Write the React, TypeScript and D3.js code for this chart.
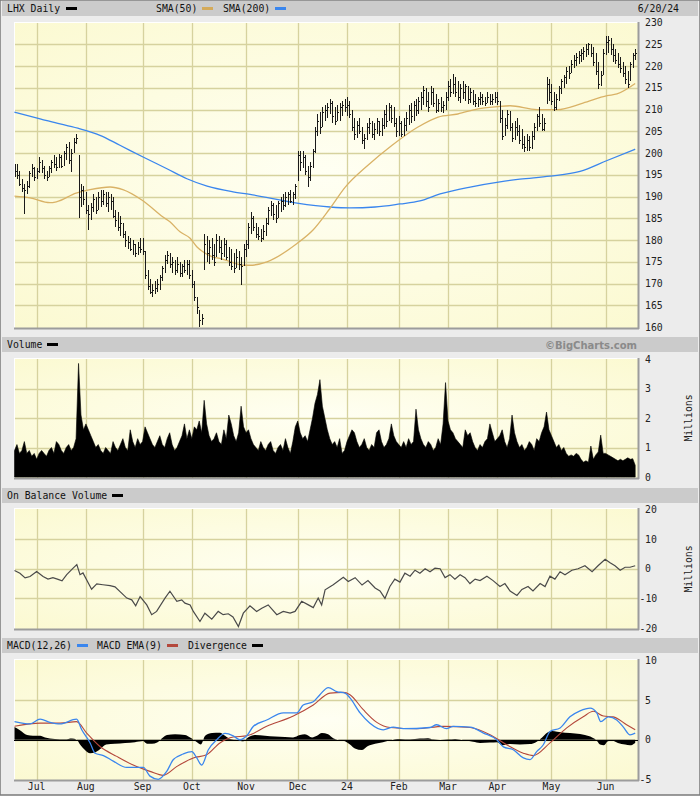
import React from "react";
import * as d3 from "d3";

const W = 700;
const H = 797;

// month gridlines: labels and trading-day index of first session
const monthLabels = ["Jul", "Aug", "Sep", "Oct", "Nov", "Dec", "24", "Feb", "Mar", "Apr", "May", "Jun"];
const monthStarts = [9, 29, 52, 72, 94, 115, 135, 156, 176, 196, 218, 240];

const priceTicks = [160, 165, 170, 175, 180, 185, 190, 195, 200, 205, 210, 215, 220, 225, 230];
const volumeTicks = [0, 1, 2, 3, 4];
const obvTicks = [-20, -10, 0, 10, 20];
const macdTicks = [-5, 0, 5, 10];

// daily bars: [high, low, close]
const bars: [number, number, number][] = [
  // Jun 2023
  [197.5, 194.5, 196], [197.6, 194, 195], [196, 192.5, 193], [194, 191, 192], [193, 186, 191.5],
  [193.5, 190.5, 192.5], [196, 192, 195.5], [197.5, 194.5, 196.5], [196.8, 193.5, 194.5],
  // Jul
  [196.5, 194, 196], [199, 195.5, 198], [198.5, 195.5, 196.5], [197, 194, 195], [196, 193.5, 194.5],
  [197, 194.5, 196.5], [198.5, 195.5, 198], [199.5, 196.5, 197.5], [199, 196, 196.8], [199.8, 196.5, 199],
  [199.5, 196.5, 197], [200.5, 197, 200], [202, 198.5, 201.5], [202.5, 197.5, 198.5], [201, 195.6, 200],
  [203.5, 200, 202.5], [204.3, 202, 203.5], [199.5, 185, 190], [193, 187.5, 191.5], [192.5, 188, 189.5],
  // Aug
  [191, 186, 187], [188, 182.3, 186], [188.5, 184.5, 187.5], [190.5, 186.5, 189.5], [190, 186, 187],
  [191, 187, 190], [191.5, 187.5, 189], [191.5, 188, 190.5], [191, 187.5, 188.5], [191, 186.5, 190],
  [190.5, 187, 189], [190, 185, 185.5], [187, 183, 184.5], [186.5, 182, 183], [185.5, 181, 184],
  [184, 180.5, 181.5], [182, 178.5, 180], [181, 178, 179.5], [180.5, 177.5, 178], [180, 176.5, 179],
  [179, 176, 177], [179.5, 176.5, 178.5], [180.5, 177, 178],
  // Sep
  [180.5, 176.5, 177.5], [177.5, 171, 172], [173, 168.5, 169.5], [171, 167.5, 168], [170, 167, 168.5],
  [170.5, 167.5, 169], [171, 168, 170], [172, 168.5, 171.5], [174, 170.5, 173.5], [176.5, 172.5, 175.5],
  [177.5, 174.5, 176.5], [177, 173.5, 174.5], [176, 172.5, 175], [175.5, 172, 173], [176, 172.5, 174.5],
  [175, 171.5, 172.5], [174.5, 171.5, 174], [175.5, 172.5, 173], [175.5, 172, 174.5], [175.5, 171, 172],
  // Oct
  [173, 169, 170], [170.5, 166, 167], [167, 163, 164.5], [164, 160, 161.5], [163, 160.5, 162],
  [181.5, 173, 179], [181, 175, 177], [180, 174.5, 178.5], [180.5, 175.5, 176.5], [179, 174, 175],
  [181.5, 176, 180], [181, 177, 178.5], [180, 175.5, 177], [180.5, 176, 179], [180, 175.5, 176],
  [178.5, 174, 175], [178, 173, 174], [177, 172.5, 173.5], [178, 173.5, 176], [177.5, 173, 174.5],
  [176, 169.6, 174], [179, 174, 178],
  // Nov
  [180, 176, 179], [184, 178, 183], [186.5, 181.5, 185], [185.5, 182, 183], [184, 180.5, 181.5],
  [183, 180, 181], [182.5, 179.5, 180.5], [183.5, 180, 182], [185, 181, 184], [187.5, 183.5, 187],
  [189, 185.5, 188], [188.5, 184.5, 186], [188, 184, 185], [189, 185, 188.5], [190, 186.5, 189],
  [190.5, 187, 188], [191, 187.5, 190], [191, 188, 190.5], [191.5, 188.5, 189], [191, 188, 190.5],
  [193, 189.5, 192.5],
  // Dec
  [200.5, 193.5, 199.5], [200.5, 196, 198], [200.5, 196.5, 199], [199.5, 195, 196], [197, 192.2, 194.5],
  [198, 193.5, 197], [201, 196.5, 200.5], [206, 200, 205], [209, 204, 207.5], [209.5, 204.5, 206],
  [210.5, 206, 209.5], [211, 207.5, 210], [211.5, 208, 210.5], [212.5, 209, 211.5], [212, 207, 208.5],
  [210.5, 206.4, 207.5], [211, 207.5, 209.5], [211.5, 207.5, 210.5], [212, 208.5, 211], [212.5, 209.5, 210.5],
  // Jan 2024
  [212.8, 208.5, 211], [212, 208, 209], [210, 205, 206], [208, 203, 204.5], [207.5, 203.5, 206.5],
  [208, 204.5, 205], [206, 202, 203], [204.5, 201, 203.5], [207, 203, 206], [208, 204.5, 207],
  [207.5, 203.5, 204.5], [207, 203, 205.5], [208, 204.5, 207.5], [207.5, 204, 205], [208, 204, 206.5],
  [210, 205.5, 209], [211, 206, 207.5], [211.6, 207.5, 210.5], [211, 207, 208], [210.5, 206, 207],
  [208, 203.6, 205],
  // Feb
  [208.5, 204, 207], [207.5, 203.6, 204.5], [208, 204, 206.5], [209.5, 205, 208], [211, 206.5, 210],
  [211.5, 207, 208.5], [212, 207.5, 211], [212.5, 208.5, 210], [213, 209, 212], [214, 210, 213],
  [215.5, 211, 214.5], [215, 210.5, 212], [214, 209.5, 210.5], [215.5, 211, 214], [215, 210.5, 211.5],
  [213.5, 209.3, 210], [212.5, 209.5, 211.5], [213, 209.5, 210.5], [212, 209.3, 211], [214, 210, 213],
  // Mar
  [216.5, 212, 215.5], [217, 213, 214], [218.3, 213.5, 216], [217.5, 213, 214], [216.7, 212, 213],
  [216, 211.5, 215], [216.5, 212.5, 214], [216, 212, 215.5], [215.5, 211.4, 212.5], [215, 211.5, 214],
  [214.5, 211, 212], [213.7, 210.5, 211.5], [213, 210.5, 212.5], [214, 211, 213], [213.5, 211, 212],
  [213, 210.8, 211.5], [214, 211.5, 213], [213.5, 211, 212], [213.5, 211, 212.5], [214, 211.5, 213],
  // Apr
  [214, 211, 212], [212, 207, 208], [210, 203, 204], [208, 204, 206.5], [210, 205.5, 209],
  [209.8, 205, 206], [207, 202.5, 203.5], [207.5, 203, 206], [208, 204, 205], [206.5, 202, 203],
  [205.5, 201, 202], [204, 200.2, 201.5], [204.5, 200.5, 203], [204, 200.5, 201.5], [205, 201, 204],
  [207, 203, 206], [209, 205, 208.5], [210.5, 206, 207], [209, 205, 205.5], [208, 205, 207],
  [217.4, 211.4, 216], [217, 212, 214],
  // May
  [216, 211, 212], [214, 209.8, 210.5], [213.5, 210, 212.5], [215.5, 212, 215], [217, 213.7, 216.5],
  [218, 215, 217.5], [219.7, 216, 219], [220, 217, 218.5], [221.5, 218.5, 220.5], [222.5, 219.5, 221.5],
  [223, 220, 222], [223.5, 220.5, 222.5], [224, 221, 223], [224.5, 221.5, 223.5], [225, 222, 224],
  [225.4, 222.5, 225], [225, 222, 223], [224.5, 220, 221], [223, 218, 219], [221, 214.8, 216],
  [219, 215.5, 218], [224, 218, 223],
  // Jun
  [227, 222.5, 225.5], [227, 223, 226], [226.5, 222.5, 224], [225, 221, 222.5], [224, 220.5, 221.5],
  [223, 219.5, 220.5], [222, 218.5, 219.5], [221, 217.4, 218.5], [220, 216, 217], [219, 215, 216],
  [221, 216.5, 220.5], [223, 219.5, 222.5], [224, 221.5, 223],
];

// daily volume, millions
const volume = [
  0.9, 1.1, 0.8, 0.9, 1.2, 0.8, 0.9, 0.7, 0.8,
  0.6, 0.8, 0.9, 0.8, 0.7, 0.9, 1.0, 0.8, 1.2, 1.1, 0.9, 0.8, 1.0, 1.1, 0.9, 1.0, 1.3, 3.85, 2.1, 1.6,
  1.8, 1.6, 1.4, 1.2, 1.0, 1.1, 0.9, 0.8, 1.0, 0.9, 0.8, 1.2, 1.0, 0.9, 1.1, 1.3, 1.0, 0.9, 1.6, 1.2, 1.0, 1.3, 1.1,
  1.2, 1.7, 1.5, 1.3, 1.1, 1.0, 1.2, 1.4, 1.1, 1.0, 1.3, 1.5, 1.1, 0.9, 1.0, 1.2, 1.4, 1.8, 1.3, 1.6,
  1.3, 1.7, 1.6, 1.9, 1.5, 2.6, 1.8, 1.4, 1.2, 1.3, 1.5, 1.2, 1.1, 1.6, 1.3, 2.1, 1.8, 1.4, 1.2, 1.5, 2.4, 1.7,
  1.5, 1.6, 1.3, 1.1, 1.0, 0.9, 1.2, 1.0, 0.9, 1.1, 1.2, 0.9, 0.8, 1.0, 1.1, 0.9, 1.3, 1.0, 0.8, 1.2, 1.7,
  1.9, 1.5, 1.3, 1.4, 1.2, 1.6, 2.0, 2.5, 2.8, 3.3, 2.4, 2.0, 1.6, 1.3, 1.1, 1.2, 1.0, 1.3, 0.8, 0.9,
  1.2, 1.4, 1.6, 1.5, 1.2, 1.0, 1.1, 1.3, 1.0, 0.9, 1.1, 1.0, 1.5, 1.6, 1.2, 1.0, 1.1, 1.3, 1.8, 1.4, 1.2,
  1.1, 1.0, 1.2, 1.0, 1.3, 1.1, 1.2, 2.3, 1.6, 1.3, 1.1, 1.0, 1.2, 1.1, 0.9, 1.0, 1.3, 1.1, 1.8, 3.2,
  1.9, 1.6, 1.5, 1.3, 1.2, 1.1, 1.0, 1.6, 1.4, 1.5, 1.2, 1.0, 0.9, 1.1, 1.0, 1.2, 1.3, 1.8, 1.5, 1.2,
  1.3, 1.4, 1.6, 1.2, 1.0, 1.3, 2.1, 1.5, 1.2, 1.0, 1.1, 0.9, 1.0, 1.2, 1.1, 0.9, 1.3, 1.2, 1.5, 1.7, 2.2, 1.6,
  1.4, 1.2, 1.0, 1.1, 0.9, 1.0, 0.8, 0.7, 0.75, 0.7, 0.8, 0.75, 0.6, 0.5, 0.55, 0.5, 1.05, 0.6, 0.75, 0.85, 1.42, 0.8,
  0.8, 0.75, 0.7, 0.65, 0.6, 0.55, 0.6, 0.55, 0.6, 0.65, 0.6, 0.62, 0.4,
];

// moving averages: [day index, value]
const sma50: [number, number][] = [
  [0, 190.1], [6.3, 189.7], [14.4, 188.6], [17, 188.8], [25, 190.8], [30.7, 191.6], [38.8, 192.2],
  [44, 191.6], [52, 189.1], [60.3, 185.3], [63.1, 184.2], [67.2, 181.9], [71.3, 180.4], [74.1, 178.4],
  [76.5, 177.3], [80.6, 176.1], [83.4, 175.8], [88.7, 174.8], [92.8, 174.2], [95.6, 174.2], [102.5, 175],
  [114.7, 179.2], [121.2, 182.3], [128, 187.2], [134.2, 192.1], [143.5, 197.2], [153.3, 201.8],
  [163.8, 206], [172, 208.3], [180, 209], [188.2, 210.2], [196, 210.7], [201.2, 210.9], [212.1, 210],
  [220.3, 210], [230.8, 211.5], [240.6, 213.2], [244.6, 213.6], [252, 216],
];
const sma200: [number, number][] = [
  [0, 209.4], [10.4, 207.9], [18.5, 206.7], [26.6, 205.6], [34.7, 204.1], [42.8, 201.8], [52.2, 199.1],
  [61.9, 196.4], [70, 194.1], [78.2, 192.4], [88.7, 191.1], [95.6, 190.5], [114.7, 188.5], [128.1, 187.6],
  [136.2, 187.4], [146.4, 187.6], [156.5, 188.3], [164.6, 189], [172.8, 190.6], [185, 192.2],
  [197.1, 193.4], [205.2, 194], [217.4, 194.7], [229.6, 195.8], [240.6, 198.3], [252, 200.9],
];

// on balance volume, millions: [day index, value]
const obv: [number, number][] = [
  [0, -0.6], [2.2, -1.5], [4.3, -3.1], [6.3, -2.6], [9, -0.9], [11.6, -2.6], [13.6, -3.5], [15.6, -3.0],
  [17.7, -3.6], [19.3, -4.1], [21.2, -2.0], [23.8, 0.2], [25.3, 1.4], [26.6, -2.0], [27.8, -1.4],
  [31.3, -6.9], [33.4, -5.1], [35.9, -5.4], [38.8, -5.7], [40.8, -6.1], [45.6, -9.9], [47.6, -10.5],
  [49.2, -12.5], [51, -9.4], [53.7, -12.2], [55.7, -15.5], [57.7, -14.4], [61.1, -9.9], [63.1, -7.6],
  [65.9, -11], [67.9, -10.5], [69.2, -11.6], [71.3, -12.2], [72.6, -14.4], [75.3, -17.8], [77.3, -15],
  [80.1, -17], [82.7, -14.4], [84.7, -15.5], [86.8, -15.2], [88.7, -16.3], [90.9, -19.5], [92.9, -15],
  [95.6, -12.5], [98.3, -14.4], [100.4, -13.3], [103, -12.2], [106.5, -15.5], [109.1, -14.4],
  [111.9, -15], [113.9, -14.4], [116.6, -11], [119.3, -12.2], [121.3, -13.1], [123.3, -9.9],
  [124.7, -12.2], [126.1, -7.1], [129.4, -5.4], [133.5, -2.9], [135.5, -4.3], [138.3, -3], [141.1, -5.5],
  [143.5, -4], [146.4, -6.5], [148.4, -7.5], [150.4, -10], [152.4, -6], [154.4, -3.5], [156.5, -4.5],
  [158.5, -1.5], [160.6, -2.5], [162.6, -0.5], [164.6, -1.5], [166.7, 0], [168.7, -1], [170.7, 0.2],
  [172.8, 0], [174.8, -3], [176.8, -2], [178.8, -3.5], [180.9, -2], [182.9, -3], [184.9, -5],
  [187, -3.5], [189, -4], [191.8, -2.5], [194.3, -4], [197.1, -6], [199.1, -5], [201.2, -7.5], [204, -9],
  [206, -7], [208.5, -6], [210.5, -7.5], [213.4, -5], [215.4, -6], [217.4, -2.5], [219.4, -3.5],
  [221.5, -1], [223.5, -2], [226.3, -0.5], [228.8, 0], [231.6, 1], [234.5, -1], [236.9, 1], [239.8, 3.2],
  [241.8, 2], [243.8, 1], [245.9, -0.5], [247.9, 0.5], [249.9, 0.5], [252, 1],
];

// MACD(12,26), its EMA(9) and the divergence: [day index, value]
const macd: [number, number][] = [
  [0, 2.3], [6.3, 2.0], [10.4, 2.6], [14.4, 2.2], [18.5, 2.0], [25.2, 2.6], [27.3, 1.26], [30.7, -0.4],
  [32.7, -1.7], [36.1, -2.0], [40.1, -2.7], [45.6, -3.5], [52.3, -3.5], [55, -4.6], [58.4, -5.0],
  [61.8, -4.0], [64.5, -2.5], [68.5, -1.8], [72, -1.5], [74, -2.3], [76, -3.2], [78.7, -1.26], [82.1, 0],
  [85.5, 0.8], [88.8, 0.5], [91.5, 0], [94.3, 0.5], [97, 1.7], [102.4, 2.5], [109.2, 3.4], [114.6, 3.4],
  [117.2, 4.4], [121.3, 4.8], [124, 5.7], [127.4, 6.6], [130.8, 6.1], [134.2, 5.9], [136.2, 5.3],
  [140.3, 3.4], [144.3, 2.1], [149.7, 1.26], [153.8, 1.6], [157.8, 1.4], [168.7, 1.55], [171.4, 1.9],
  [175.4, 1.4], [178.1, 1.7], [185, 1.6], [190.4, 0.85], [195.8, 0], [198.5, -0.9], [202.5, -1.26],
  [206.6, -2.3], [209.3, -2.5], [212, -1.5], [214.7, -0.63], [217.4, 1.05], [221.5, 1.5], [225.5, 2.9],
  [229.6, 3.65], [233.7, 4.0], [236.4, 3.4], [238, 2.3], [241.1, 2.9], [244.5, 2.5], [247.2, 1.6],
  [249.9, 0.63], [252, 0.85],
];
const macdEma: [number, number][] = [
  [0, 1.7], [10.4, 2.1], [18.5, 2.1], [25.2, 2.3], [29.3, 0.85], [34.7, -0.85], [41.5, -2.1], [48.2, -3.2],
  [55, -4.0], [60.4, -4.5], [65.8, -3.4], [72.6, -2.3], [78, -1.9], [83.4, -0.4], [88.8, 0.34], [94.3, 0.5],
  [102.4, 1.7], [113.2, 3.0], [121.3, 4.4], [128.1, 5.9], [133.5, 6.0], [136.2, 5.7], [141.6, 3.8],
  [147.1, 2.2], [152.5, 1.55], [163.3, 1.4], [174.1, 1.7], [185, 1.55], [193.1, 0.63], [199.8, -0.63],
  [206.6, -1.7], [210.6, -2.0], [217.4, -0.4], [224.2, 1.5], [230.9, 2.9], [235, 3.6], [239.1, 3.0],
  [243.1, 2.9], [248.5, 1.9], [252, 1.26],
];
const divergence: [number, number][] = [
  [0, 1.6], [2.2, 1.2], [5.1, 0.6], [7.5, 0.5], [10.4, 0.5], [12.4, 0.3], [16.4, 0.1], [20.5, 0.05],
  [23.3, 0.15], [25.3, 0], [26.6, -0.6], [28.6, -1.3], [30.7, -1.7], [32.7, -1.6], [34.7, -1.2],
  [37.2, -0.6], [40.8, -0.5], [44.9, -0.4], [48.9, -0.3], [52.2, -0.15], [53.8, -0.5], [55.8, -0.5],
  [57.9, -0.35], [59.9, 0.2], [61.9, 0.6], [65.2, 0.7], [69.2, 0.6], [71.3, 0.3], [74.1, -0.3],
  [75.7, -0.6], [77.4, 0.5], [80.2, 0.85], [83.4, 0.9], [85.5, 0.5], [87.5, 0.1], [90.7, 0], [92.8, -0.2],
  [94.8, 0.3], [97.6, 0.6], [101.7, 0.5], [105.8, 0.4], [109.8, 0.35], [113.1, 0.3], [115.9, 0.6],
  [117.9, 0.7], [120.8, 0.3], [122.8, 0.5], [124.8, 0.85], [127.3, 0.7], [129.4, 0.2], [131.3, 0],
  [134.2, -0.2], [136.2, -0.6], [138.2, -1.1], [141.1, -1.3], [143.5, -0.8], [146.4, -0.5], [149.6, -0.3],
  [152.4, -0.1], [154.4, 0.05], [156.5, 0.1], [160.6, 0.05], [164.6, 0.15], [167.9, 0.2], [169.9, 0.05],
  [172.8, 0], [176, 0.05], [178.9, 0.1], [183, -0.1], [186.2, -0.25], [189, -0.4], [193, -0.35],
  [196, -0.3], [198, -0.7], [201.2, -0.55], [205.2, -0.6], [209.3, -0.55], [211.7, -0.3], [214.2, 0.3],
  [216.2, 0.9], [218.2, 1.1], [220.3, 1.0], [223.5, 0.9], [227.6, 0.8], [231.6, 0.6], [234.5, 0.3],
  [236.1, 0], [237.7, -0.6], [239.3, -0.7], [240.9, -0.2], [242.5, -0.1], [245, -0.4], [247.9, -0.6],
  [249.9, -0.7], [252, -0.4],
];

const MONO = "'DejaVu Sans Mono', monospace";
const PL = 14;
const PR = 638;

const x = d3.scaleLinear().domain([0, 252]).range([14.5, 635.2]);
const yP = d3.scaleLinear().domain([160, 230]).range([327, 22.7]);
const yV = d3.scaleLinear().domain([0, 4]).range([477, 359]);
const yO = d3.scaleLinear().domain([-20, 20]).range([628, 509.5]);
const yM = d3.scaleLinear().domain([-5, 10]).range([779.3, 660.7]);

const panels = [
  { id: "p", top: 22, bottom: 328, y: yP, ticks: priceTicks },
  { id: "v", top: 358, bottom: 478, y: yV, ticks: volumeTicks },
  { id: "o", top: 508, bottom: 629, y: yO, ticks: obvTicks },
  { id: "m", top: 659, bottom: 780, y: yM, ticks: macdTicks },
];

function Header({ y, items, right }: { y: number; items: { text: string; color: string; x: number; sw: number }[]; right?: React.ReactNode }) {
  return (
    <g>
      <rect x={2} y={y} width={696} height={15} fill="#cbcbcb" />
      {items.map((it, i) => (
        <g key={i}>
          <text x={it.x} y={y + 11} fontFamily={MONO} fontSize={9.8} fill="#111">{it.text}</text>
          <rect x={it.sw} y={y + 6} width={11} height={3} fill={it.color} />
        </g>
      ))}
      {right}
    </g>
  );
}

export default function App() {
  const lineOf = (yS: d3.ScaleLinear<number, number>) =>
    d3.line<[number, number]>().x((d) => x(d[0])).y((d) => yS(d[1])).curve(d3.curveMonotoneX);
  const lineRaw = (yS: d3.ScaleLinear<number, number>) =>
    d3.line<[number, number]>().x((d) => x(d[0])).y((d) => yS(d[1]));

  const volArea = d3
    .area<number>()
    .x((_, i) => x(i))
    .y0(yV(0))
    .y1((d) => yV(d));
  const divArea = d3
    .area<[number, number]>()
    .x((d) => x(d[0]))
    .y0(yM(0))
    .y1((d) => yM(d[1]))
    .curve(d3.curveMonotoneX);

  return (
    <div>
      <style>{`body{margin:0;background:#fff}`}</style>
      <svg width={W} height={H} style={{ display: "block" }}>
        <defs>
          <radialGradient id="pbg" cx="50%" cy="50%" r="75%">
            <stop offset="0%" stopColor="#fffff3" />
            <stop offset="100%" stopColor="#fbf9cf" />
          </radialGradient>
          {panels.map((p) => (
            <clipPath id={"clip-" + p.id} key={p.id}>
              <rect x={PL} y={p.top} width={PR - PL} height={p.bottom - p.top} />
            </clipPath>
          ))}
        </defs>
        <rect x={0} y={0} width={W} height={795} fill="#ececec" stroke="#7a7a7a" strokeWidth={1.5} />

        <Header
          y={1}
          items={[
            { text: "LHX Daily", color: "#000", x: 7, sw: 66 },
            { text: "SMA(50)", color: "#d4aa5a", x: 156, sw: 202 },
            { text: "SMA(200)", color: "#3a86ee", x: 223, sw: 275 },
          ]}
          right={<text x={679} y={12} textAnchor="end" fontFamily={MONO} fontSize={9.8} fill="#111">6/20/24</text>}
        />
        <Header
          y={337}
          items={[{ text: "Volume", color: "#000", x: 7, sw: 47 }]}
          right={
            <text x={637} y={349} textAnchor="end" fontFamily="'DejaVu Sans', sans-serif" fontWeight="bold" fontSize={10} fill="#8a8a8a">
              ©BigCharts.com
            </text>
          }
        />
        <Header y={488} items={[{ text: "On Balance Volume", color: "#000", x: 7, sw: 112 }]} />
        <Header
          y={638}
          items={[
            { text: "MACD(12,26)", color: "#3a86ee", x: 7, sw: 77 },
            { text: "MACD EMA(9)", color: "#b4483c", x: 97, sw: 167 },
            { text: "Divergence", color: "#000", x: 188, sw: 252 },
          ]}
        />

        {panels.map((p) => (
          <g key={p.id}>
            <rect x={PL} y={p.top} width={PR - PL} height={p.bottom - p.top} fill="url(#pbg)" />
            {monthStarts.map((m, i) => (
              <line key={i} x1={Math.round(x(m)) + 0.5} x2={Math.round(x(m)) + 0.5} y1={p.top} y2={p.bottom} stroke="#d6d29e" strokeWidth={1.3} />
            ))}
            {p.ticks.slice(1, -1).map((t) => (
              <line key={t} x1={PL} x2={PR} y1={Math.round(p.y(t)) + 0.5} y2={Math.round(p.y(t)) + 0.5} stroke="#d6d29e" strokeWidth={1.3} />
            ))}
            {p.ticks.map((t) => (
              <text key={"l" + t} x={t < 0 ? 639.5 : 645} y={p.y(t) + 3.5} fontFamily={MONO} fontSize={9.8} fill="#222">
                {t}
              </text>
            ))}
            <line x1={PL} x2={PR} y1={p.top + 0.5} y2={p.top + 0.5} stroke="#ffffff" strokeWidth={1} />
            <line x1={PL + 0.5} x2={PL + 0.5} y1={p.top} y2={p.bottom} stroke="#ffffff" strokeWidth={1} />
            <line x1={PL} x2={PR + 1} y1={p.bottom + 0.5} y2={p.bottom + 0.5} stroke="#9c9c9c" strokeWidth={2} />
            <line x1={PR + 0.5} x2={PR + 0.5} y1={p.top} y2={p.bottom + 1} stroke="#9c9c9c" strokeWidth={2} />
          </g>
        ))}

        {/* price panel */}
        <g clipPath="url(#clip-p)">
          <path d={lineOf(yP)(sma200) || ""} fill="none" stroke="#3a86ee" strokeWidth={1.3} />
          <path d={lineOf(yP)(sma50) || ""} fill="none" stroke="#d9b266" strokeWidth={1.3} />
          {bars.map((b, i) => {
            const xi = Math.round(x(i)) + 0.5;
            return (
              <g key={i} stroke="#1a1a1a" strokeWidth={1} shapeRendering="crispEdges">
                <line x1={xi} x2={xi} y1={yP(b[0])} y2={yP(b[1])} />
                <line x1={xi} x2={xi + 1.5} y1={Math.round(yP(b[2])) + 0.5} y2={Math.round(yP(b[2])) + 0.5} />
              </g>
            );
          })}
        </g>

        {/* volume panel */}
        <g clipPath="url(#clip-v)">
          <path d={volArea(volume) || ""} fill="#000" stroke="#000" strokeWidth={0.6} />
        </g>
        <text transform="translate(692,418) rotate(-90)" textAnchor="middle" fontFamily={MONO} fontSize={9.8} fill="#222">Millions</text>

        {/* OBV panel */}
        <g clipPath="url(#clip-o)">
          <path d={lineRaw(yO)(obv) || ""} fill="none" stroke="#4a4a4a" strokeWidth={1.2} />
        </g>
        <text transform="translate(692,569) rotate(-90)" textAnchor="middle" fontFamily={MONO} fontSize={9.8} fill="#222">Millions</text>

        {/* MACD panel */}
        <g clipPath="url(#clip-m)">
          <path d={divArea(divergence) || ""} fill="#000" />
          <line x1={PL} x2={PR} y1={Math.round(yM(0)) + 0.5} y2={Math.round(yM(0)) + 0.5} stroke="#000" strokeWidth={1} />
          <path d={lineOf(yM)(macdEma) || ""} fill="none" stroke="#b4483c" strokeWidth={1.1} />
          <path d={lineOf(yM)(macd) || ""} fill="none" stroke="#3a86ee" strokeWidth={1.3} />
        </g>

        {monthLabels.map((m, i) => (
          <text key={m} x={x(monthStarts[i])} y={790} textAnchor="middle" fontFamily={MONO} fontSize={9.8} fill="#222">
            {m}
          </text>
        ))}
      </svg>
    </div>
  );
}
